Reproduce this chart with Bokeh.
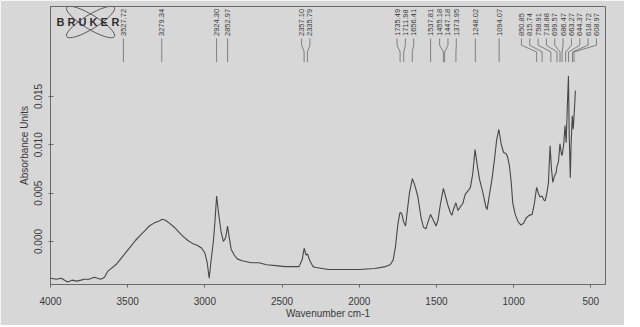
import math
from bokeh.plotting import figure
from bokeh.models import Range1d, FixedTicker, NumeralTickFormatter
from bokeh.core.properties import value
from bokeh.embed import file_html
from bokeh.resources import INLINE

# ---- spectrum ----
wavenumber = [4000, 3960, 3930, 3890, 3860, 3830, 3803, 3780, 3750, 3717, 3695, 3674, 3650,
              3630, 3600, 3570, 3540, 3510, 3480, 3450, 3420, 3390, 3360, 3330, 3300, 3275,
              3255, 3230, 3200, 3170, 3140, 3110, 3080, 3050, 3020, 3000, 2985, 2972, 2960,
              2945, 2935, 2924, 2912, 2895, 2880, 2865, 2853, 2842, 2830, 2810, 2790, 2760,
              2700, 2650, 2600, 2540, 2480, 2430, 2390, 2370, 2357, 2345, 2335, 2320, 2300,
              2280, 2200, 2100, 2000, 1900, 1830, 1800, 1780, 1765, 1750, 1736, 1725, 1712,
              1700, 1690, 1675, 1656, 1640, 1620, 1600, 1585, 1568, 1555, 1538, 1520, 1503,
              1490, 1475, 1455, 1440, 1427, 1410, 1400, 1390, 1374, 1360, 1345, 1330, 1313,
              1297, 1280, 1265, 1250, 1235, 1222, 1200, 1180, 1172, 1160, 1140, 1124, 1110,
              1096, 1080, 1065, 1050, 1040, 1027, 1015, 1006, 990, 970, 952, 935, 920, 900,
              880, 865, 851, 840, 830, 816, 805, 796, 785, 775, 764, 755, 746, 735, 725, 719,
              710, 700, 690, 686, 676, 667, 660, 652, 645, 640, 633, 628, 620, 614, 605, 600]
absorbance = [-0.0038, -0.0039, -0.0038, -0.0042, -0.0040, -0.0041, -0.0040, -0.0039, -0.0039,
              -0.0037, -0.0038, -0.0039, -0.0037,
              -0.0031, -0.0027, -0.0023, -0.0017, -0.0011, -0.0005, 0.0001, 0.0006, 0.0011,
              0.0016, 0.0019, 0.0021, 0.0023, 0.0022, 0.0019, 0.0015, 0.0010, 0.0005, 0.0001,
              -0.0002, -0.0004, -0.0007, -0.0012, -0.0022, -0.0038, -0.0020, 0.0000, 0.0020,
              0.0047, 0.0030, 0.0010, 0.0000, 0.0004, 0.0016, 0.0004, -0.0008, -0.0014,
              -0.0018, -0.0020, -0.0022, -0.0022, -0.0024, -0.0025, -0.0026, -0.0026, -0.0026,
              -0.0019, -0.0007, -0.0014, -0.0013, -0.0020, -0.0026, -0.0027, -0.0029, -0.0029,
              -0.0029, -0.0028, -0.0026, -0.0024, -0.0019, -0.0005, 0.0018, 0.0030, 0.0029,
              0.0020, 0.0016, 0.0030, 0.0050, 0.0065, 0.0058, 0.0046, 0.0025, 0.0015, 0.0013,
              0.0020, 0.0028, 0.0022, 0.0016, 0.0022, 0.0038, 0.0055, 0.0046, 0.0038, 0.0030,
              0.0027, 0.0033, 0.0040, 0.0032, 0.0036, 0.0039, 0.0049, 0.0052, 0.0056, 0.0070,
              0.0095, 0.0078, 0.0065, 0.0051, 0.0036, 0.0033, 0.0045, 0.0065, 0.0085, 0.0105,
              0.0116, 0.0100, 0.0092, 0.0091, 0.0088, 0.0078, 0.0060, 0.0040, 0.0028, 0.0020,
              0.0017, 0.0019, 0.0024, 0.0027, 0.0028, 0.0040, 0.0056, 0.0050, 0.0046, 0.0047,
              0.0043, 0.0042, 0.0050, 0.0060, 0.0099, 0.0075, 0.0061, 0.0068, 0.0071, 0.0078,
              0.0082, 0.0101, 0.0090, 0.0089, 0.0100, 0.0120, 0.0102, 0.0140, 0.0171, 0.0110,
              0.0066, 0.0100, 0.0130, 0.0116, 0.0140, 0.0156]

peak_positions = [3527.72, 3279.34, 2924.30, 2852.97, 2357.10, 2335.79, 1735.49, 1711.98,
                  1656.41, 1537.81, 1455.18, 1447.18, 1373.95, 1248.02, 1094.07, 850.85,
                  815.74, 758.91, 718.88, 699.57, 686.47, 663.27, 644.37, 618.72, 608.97]
peak_labels = ["%.2f" % v for v in peak_positions]

x_ticks = [4000, 3500, 3000, 2500, 2000, 1500, 1000, 500]
y_ticks = [0.000, 0.005, 0.010, 0.015]

X_START, X_END = 4000, 405
Y_START, Y_END = -0.00445, 0.0243
FRAME_W = 554.7

BG = "#d7d7d7"
INK = "#3a3a3a"
FONT = "Liberation Sans"


def spread(peaks, gap):
    u = [X_START - w for w in peaks]
    groups = [[i] for i in range(len(u))]

    def place(g):
        c = sum(u[i] for i in g) / len(g)
        n = len(g)
        return [c + (k - (n - 1) / 2) * gap for k in range(n)]

    changed = True
    while changed:
        changed = False
        for j in range(1, len(groups)):
            a = place(groups[j - 1])
            b = place(groups[j])
            if b[0] - a[-1] < gap:
                groups[j - 1] = groups[j - 1] + groups[j]
                del groups[j]
                changed = True
                break
    out = []
    for g in groups:
        out += place(g)
    return [X_START - v for v in out]


p = figure(width=624, height=325, x_range=Range1d(X_START, X_END),
           y_range=Range1d(Y_START, Y_END), output_backend="svg",
           toolbar_location=None, min_border_left=50, min_border_right=19,
           min_border_top=6, min_border_bottom=41, margin=(0, 0, -14, 0))
p.background_fill_color = BG
p.border_fill_color = BG
p.outline_line_color = "#6a6a6a"
p.outline_line_width = 1
p.grid.visible = False

# spectrum
p.line(wavenumber, absorbance, line_color="#474747", line_width=1.1)

# peak labels with connectors
label_x = spread(peak_positions, 54)
y_text = 0.02125
y_a, y_b, y_c, y_d = 0.0210, 0.0203, 0.0196, 0.01855
xs = [[lx, lx, px, px] for lx, px in zip(label_x, peak_positions)]
ys = [[y_a, y_b, y_c, y_d] for _ in peak_positions]
p.multi_line(xs, ys, line_color="#6a6a6a", line_width=0.8)
p.text(x=label_x, y=[y_text] * len(label_x), text=peak_labels, angle=math.pi / 2,
       text_font=value(FONT), text_font_size="7.5px", text_color=INK,
       text_align="left", text_baseline="middle")

# Bruker logo (decoration)
logo_x = X_START
logo_cx = X_START - 40 * (X_START - X_END) / FRAME_W
logo_y = 0.0227
p.ellipse(x=[logo_cx, logo_cx], y=[logo_y, logo_y], width=56, height=14,
          angle=[0.55, -0.55], width_units="screen", height_units="screen",
          fill_alpha=0, line_color="#5a5a5a", line_width=1.0)
letters = list("BRUKER")
p.text(x=[logo_x] * 6, y=[logo_y] * 6, text=letters,
       x_offset=[6 + 11 * i for i in range(6)], text_font=value(FONT),
       text_font_style="bold", text_font_size="11px", text_color="#2e2e2e",
       text_align="left", text_baseline="middle")

# axes
p.xaxis.ticker = FixedTicker(ticks=x_ticks)
p.yaxis.ticker = FixedTicker(ticks=y_ticks)
p.yaxis.formatter = NumeralTickFormatter(format="0.000")
p.yaxis.major_label_orientation = "vertical"
p.xaxis.axis_label = "Wavenumber cm-1"
p.yaxis.axis_label = "Absorbance Units"
for ax in (p.xaxis, p.yaxis):
    ax.axis_line_color = "#6a6a6a"
    ax.major_tick_line_color = "#6a6a6a"
    ax.minor_tick_line_color = None
    ax.major_label_text_font = FONT
    ax.major_label_text_font_size = "10px"
    ax.major_label_text_color = INK
    ax.axis_label_text_font = FONT
    ax.axis_label_text_font_size = "10px"
    ax.axis_label_text_font_style = "normal"
    ax.axis_label_text_color = INK
p.xaxis.major_tick_out = 3
p.xaxis.major_tick_in = 0
p.xaxis.major_label_standoff = 9
p.xaxis.axis_label_standoff = 0
p.yaxis.major_tick_out = 2
p.yaxis.major_tick_in = 3
p.yaxis.major_label_standoff = 6
p.yaxis.axis_label_standoff = 2

open("out.html", "w").write(file_html(p, INLINE))
